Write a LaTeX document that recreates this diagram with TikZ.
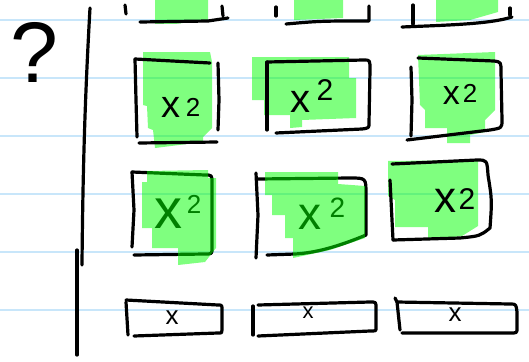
\documentclass[tikz,border=0pt]{standalone}
\usepackage{fontspec}
\setmainfont{Liberation Sans}
\definecolor{rulecol}{RGB}{200,230,250}
\definecolor{hlgreen}{RGB}{0,255,0}
\newcommand{\xsq}[4]{{\fontsize{#1}{#1}\selectfont x}\hspace{#4}\raisebox{#3}{\fontsize{#2}{#2}\selectfont 2}}
\begin{document}
\begin{tikzpicture}[x=1pt,y=-1pt,
  ink/.style={line width=3.2pt,line cap=round,line join=round,black},
  rulel/.style={line width=1.8pt,rulecol},
  hl/.style={fill=hlgreen,fill opacity=0.5,draw=none},
  lbl/.style={inner sep=0pt,text=black},
  xs/.style={inner sep=0pt,font=\fontsize{26}{26}\selectfont}]
\useasboundingbox (0,0) rectangle (529,361);
\fill[white] (0,0) rectangle (529,361);
\foreach \y in {20,78,136,194,252,310} \draw[rulel] (0,\y) -- (529,\y);

% question mark and margin line
\node[lbl,font=\fontsize{86}{86}\selectfont] (q) at (34,52) {?};
\draw[ink] (90,8) .. controls (86,80) and (83,150) .. (82,265);
\draw[ink] (77,250) -- (77,355);

% highlights under ink
\path[hl] (155,0) -- (208,0) -- (208,20) -- (175,24) -- (155,24) -- cycle;
\path[hl] (294,0) -- (343,0) -- (343,18) -- (294,20) -- cycle;
\path[hl] (436,0) -- (498,0) -- (498,12) -- (470,20) -- (436,22) -- cycle;
\path[hl] (143,52) -- (210,52) -- (212,62) -- (212,128) -- (203,137) -- (203,142) -- (155,148) -- (153,130) -- (148,128) -- (147,106) -- (143,105) -- cycle;
\path[hl] (252,57) -- (349,57) -- (349,78) -- (356,78) -- (356,118) -- (302,120) -- (302,127) -- (290,128) -- (290,115) -- (264,115) -- (264,100) -- (252,100) -- cycle;
\path[hl] (418,55) -- (495,52) -- (495,110) -- (485,120) -- (485,132) -- (470,135) -- (470,143) -- (447,143) -- (447,128) -- (425,128) -- (425,110) -- (420,105) -- cycle;
\path[hl] (388,161) -- (478,160) -- (478,226) -- (462,236) -- (428,240) -- (428,227) -- (395,227) -- (395,200) -- (388,196) -- cycle;

% top row (cut off)
\draw[ink] (125,5) -- (126,14);
\draw[ink] (140,22) -- (208,21) -- (228,18);
\draw[ink] (222,6) -- (223,16);
\draw[ink] (276,7) -- (276,16);
\draw[ink] (286,24) .. controls (320,21) .. (369,21) -- (369,6);
\draw[ink] (413,5) -- (413,24);
\draw[ink] (402,27) .. controls (450,25) and (490,24) .. (512,17);
\draw[ink] (510,8) -- (510,15);

% row 2
\draw[ink] (135,59) -- (136,100) -- (137,137);
\draw[ink] (135,59) -- (210,63);
\draw[ink] (218,63) -- (219,100) -- (218,130);
\draw[ink] (139,143) -- (217,142);
\draw[ink] (267,62) -- (267,130);
\draw[ink] (267,62) -- (364,60) .. controls (370,60) .. (370,70) -- (369,123) .. controls (369,128) .. (362,129) -- (276,133);
\draw[ink] (411,67) -- (412,100) -- (411,136);
\draw[ink] (418,58) -- (494,61) .. controls (501,62) .. (501,72) -- (502,120) .. controls (502,128) .. (490,130) -- (407,140);

% row 3
\draw[ink] (132,172) -- (134,210) -- (132,247);
\draw[ink] (132,172) -- (205,175) .. controls (212,175) .. (212,183) -- (212,248) .. controls (212,254) .. (205,254) -- (134,255);
\draw[ink] (256,173) -- (258,215) -- (256,258);
\draw[ink] (258,179) -- (350,178) .. controls (366,178) .. (366,194) -- (366,235) .. controls (330,250) and (310,253) .. (295,254) -- (267,255);
\draw[ink] (392,164) -- (477,160) .. controls (487,160) .. (488,175) .. controls (492,200) .. (490,228) .. controls (480,236) .. (460,238) -- (393,240);
\draw[ink] (390,180) -- (393,240);

% row 4
\draw[ink] (126,300) -- (218,305) .. controls (222,305) .. (222,310) -- (222,330) .. controls (222,333) .. (218,333) -- (134,336);
\draw[ink] (126,302) -- (128,335);
\draw[ink] (253,306) -- (253,335);
\draw[ink] (258,305) -- (370,302) .. controls (376,302) .. (376,308) -- (376,328) .. controls (376,331) .. (370,331) -- (258,336);
\draw[ink] (395,298) -- (397,302) -- (400,330);
\draw[ink] (397,302) -- (510,304) .. controls (516,304) .. (517,312) -- (517,328) .. controls (517,333) .. (510,333) -- (402,333);

% labels
\node[lbl] (t21) at (181,107) {\xsq{38}{26}{1pt}{5pt}};
\node[lbl] (t22) at (312,96) {\xsq{40}{30}{12pt}{6pt}};
\node[lbl] (t23) at (460,94) {\xsq{34}{26}{2pt}{3pt}};
\node[lbl] (t31) at (178,212) {\xsq{56}{26}{15pt}{4pt}};
\node[lbl] (t32) at (322,214) {\xsq{46}{28}{12pt}{8pt}};
\node[lbl] (t33) at (455,201) {\xsq{44}{30}{3pt}{2pt}};
\node[xs] (t41) at (172,318) {x};
\node[xs,font=\fontsize{22}{22}\selectfont] (t42) at (308,313) {x};
\node[xs] (t43) at (455,315) {x};

% highlights over ink
\path[hl] (147,171) -- (208,170) -- (208,178) -- (216,178) -- (216,248) -- (205,262) -- (178,265) -- (178,248) -- (152,248) -- (152,228) -- (142,228) -- (142,182) -- (147,182) -- cycle;
\path[hl] (265,172) -- (338,172) -- (338,184) -- (365,186) -- (365,238) -- (330,250) -- (293,258) -- (293,238) -- (285,238) -- (285,215) -- (272,215) -- (272,195) -- (265,195) -- cycle;
\end{tikzpicture}
\end{document}
